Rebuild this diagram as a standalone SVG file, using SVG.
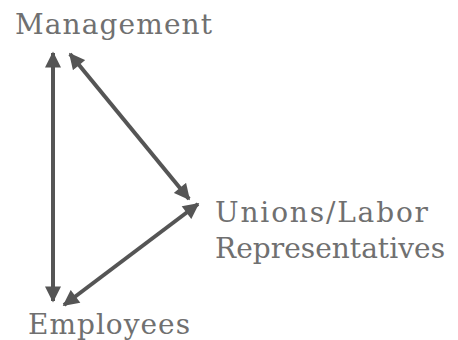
<svg xmlns="http://www.w3.org/2000/svg" width="458" height="340" viewBox="0 0 458 340">
  <style>
    .label { font-family: "DejaVu Serif", "Liberation Serif", serif; font-size: 28px; fill: #707070; }
    .link { stroke: #555555; stroke-width: 4; fill: none; marker-start: url(#head); marker-end: url(#head); }
  </style>
  <defs>
    <marker id="head" viewBox="0 0 10 10" refX="9" refY="5" markerWidth="4.2" markerHeight="4" orient="auto-start-reverse" markerUnits="strokeWidth">
      <path d="M0,0 L10,5 L0,10 Z" fill="#555555"/>
    </marker>
  </defs>
  <rect width="458" height="340" fill="#ffffff"/>

  <g id="connectors">
    <line class="link" x1="53" y1="53" x2="53" y2="301"/>
    <line class="link" x1="70" y1="54" x2="189" y2="199"/>
    <line class="link" x1="198" y1="204" x2="64" y2="305"/>
  </g>

  <g id="management">
    <text class="label" x="15" y="34" textLength="197" lengthAdjust="spacing">Management</text>
  </g>
  <g id="unions">
    <text class="label" x="215" y="222" textLength="213" lengthAdjust="spacing">Unions/Labor</text>
    <text class="label" x="215" y="258" textLength="230" lengthAdjust="spacing">Representatives</text>
  </g>
  <g id="employees">
    <text class="label" x="28" y="334" textLength="162" lengthAdjust="spacing">Employees</text>
  </g>
</svg>
